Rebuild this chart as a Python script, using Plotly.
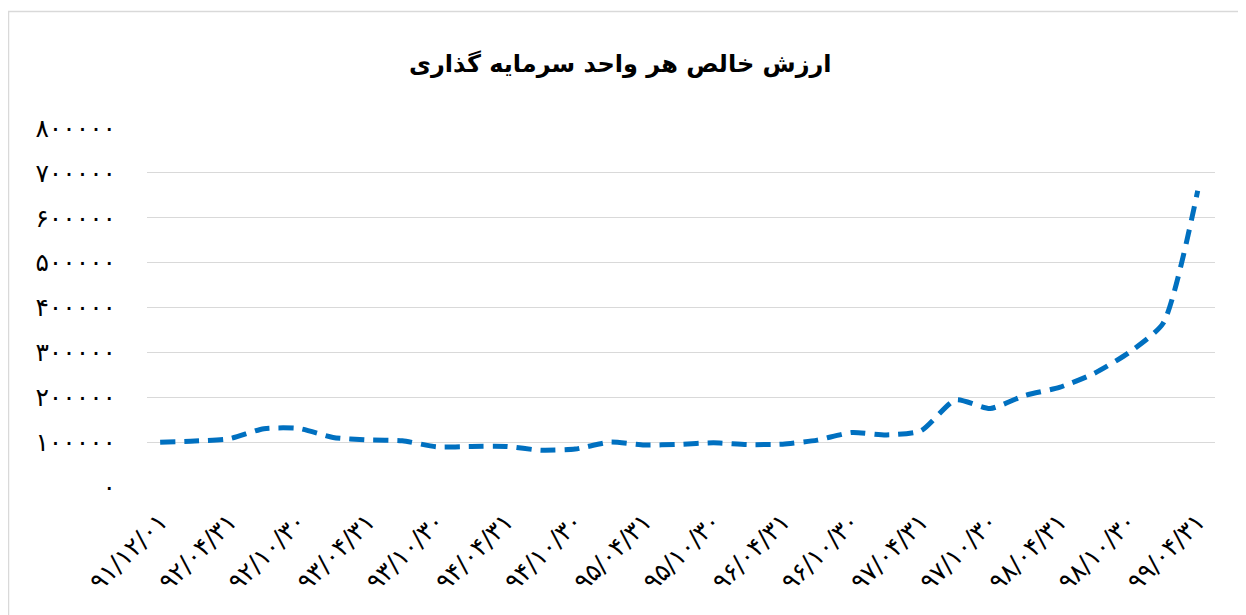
import plotly.graph_objects as go

dates = ["۹۱/۱۲/۰۱", "۹۲/۰۱/۳۱", "۹۲/۰۴/۳۱", "۹۲/۰۷/۳۰", "۹۲/۱۰/۳۰",
         "۹۳/۰۱/۳۱", "۹۳/۰۴/۳۱", "۹۳/۰۷/۳۰", "۹۳/۱۰/۳۰",
         "۹۴/۰۱/۳۱", "۹۴/۰۴/۳۱", "۹۴/۰۷/۳۰", "۹۴/۱۰/۳۰",
         "۹۵/۰۱/۳۱", "۹۵/۰۴/۳۱", "۹۵/۰۷/۳۰", "۹۵/۱۰/۳۰",
         "۹۶/۰۱/۳۱", "۹۶/۰۴/۳۱", "۹۶/۰۷/۳۰", "۹۶/۱۰/۳۰",
         "۹۷/۰۱/۳۱", "۹۷/۰۴/۳۱", "۹۷/۰۷/۳۰", "۹۷/۱۰/۳۰",
         "۹۸/۰۱/۳۱", "۹۸/۰۴/۳۱", "۹۸/۰۷/۳۰", "۹۸/۱۰/۳۰",
         "۹۹/۰۱/۳۱", "۹۹/۰۴/۳۱"]

nav = [100000, 102500, 107500, 130000, 130500, 110500, 105000, 103000, 89500,
       90500, 90500, 82000, 84500, 100000, 93500, 95000, 98500, 94500, 95500,
       104500, 121500, 116000, 125500, 194000, 175000, 204000, 222000, 253000,
       299000, 365000, 660000]

ytick_vals = [0, 100000, 200000, 300000, 400000, 500000, 600000, 700000, 800000]
ytick_text = ["۰", "۱۰۰۰۰۰", "۲۰۰۰۰۰", "۳۰۰۰۰۰", "۴۰۰۰۰۰", "۵۰۰۰۰۰",
              "۶۰۰۰۰۰", "۷۰۰۰۰۰", "۸۰۰۰۰۰"]

title_text = "ارزش خالص هر واحد سرمایه گذاری"

# page offset of the plotly div (default body margin)
OFF = 8
PL, PR, PT, PB = 147, 1215, 128, 487
W, H = 1246 - OFF, 615 - OFF


def px(xp):
    return (xp - PL) / (PR - PL)


def py(yp):
    return (PB - yp) / (PB - PT)


fig = go.Figure()
fig.add_trace(go.Scatter(
    x=list(range(len(dates))), y=nav, mode="lines",
    line=dict(color="#0070C0", width=5, dash="15px,9px", shape="spline", smoothing=0.6),
    showlegend=False, hoverinfo="skip"))

font_family = "DejaVu Sans, Noto Sans, sans-serif"

fig.update_layout(
    width=W, height=H,
    margin=dict(l=PL - OFF, r=W - (PR - OFF), t=PT - OFF, b=H - (PB - OFF)),
    paper_bgcolor="white", plot_bgcolor="white",
    font=dict(family=font_family, color="#000000"),
    xaxis=dict(range=[-0.38, 30.5], tickmode="array",
               tickvals=list(range(0, len(dates), 2)),
               ticktext=dates[::2], tickangle=-45,
               showgrid=False, zeroline=False, showline=False,
               tickfont=dict(size=25, family=font_family, color="#000000"),
               ticks="", ticklabelstandoff=14),
    yaxis=dict(range=[0, 800000], tickmode="array", tickvals=ytick_vals,
               ticktext=ytick_text, showgrid=True, gridcolor="#D9D9D9", gridwidth=1.3,
               zeroline=False, showline=False, ticks="",
               tickfont=dict(size=25, family=font_family, color="#000000"),
               ticklabelstandoff=30),
    annotations=[dict(text="<b>" + title_text + "</b>", xref="paper", yref="paper",
                      x=px(620), y=py(64), xanchor="center",
                      yanchor="middle", showarrow=False,
                      font=dict(size=24, family=font_family, color="#000000"))],
    shapes=[dict(type="rect", xref="paper", yref="paper",
                 x0=px(8.5), x1=1.2, y0=-0.5, y1=py(11.5),
                 line=dict(color="#D9D9D9", width=1.5), fillcolor="rgba(0,0,0,0)")],
)

fig.write_html("out.html")
